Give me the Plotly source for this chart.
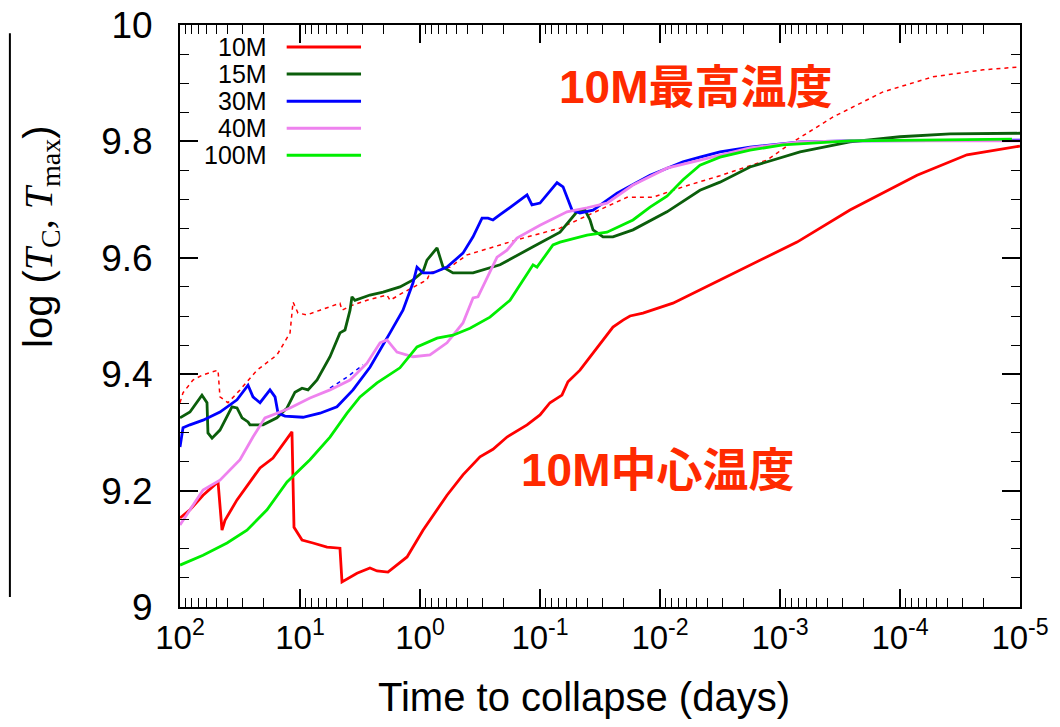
import plotly.graph_objects as go

# ---------------- data (x: log10 of days before collapse, y: log T) ----------------
lt_10m_c = [2.0, 1.917, 1.808, 1.683, 1.65, 1.625, 1.525, 1.333, 1.225, 1.067, 1.05, 0.983, 0.892,
            0.775, 0.667, 0.65, 0.525, 0.417, 0.358, 0.267, 0.108, -0.025, -0.225, -0.358, -0.5,
            -0.608, -0.725, -0.892, -1.0, -1.083, -1.183, -1.233, -1.333, -1.475, -1.608, -1.692,
            -1.75, -1.858, -2.108, -2.5, -2.833, -3.142, -3.583, -4.142, -4.558, -5.0]
T_10m_c = [9.153, 9.167, 9.192, 9.215, 9.132, 9.149, 9.184, 9.239, 9.256, 9.301, 9.137, 9.115, 9.110,
           9.103, 9.101, 9.043, 9.058, 9.067, 9.062, 9.060, 9.086, 9.132, 9.192, 9.227, 9.258,
           9.271, 9.292, 9.313, 9.330, 9.351, 9.364, 9.387, 9.407, 9.445, 9.481, 9.493,
           9.500, 9.505, 9.522, 9.562, 9.596, 9.627, 9.682, 9.742, 9.777, 9.792]

lt_10m_max = [2.0, 1.975, 1.892, 1.808, 1.683, 1.667, 1.6, 1.5, 1.358, 1.192, 1.083, 1.058, 1.017,
              0.942, 0.833, 0.667, 0.65, 0.558, 0.442, 0.275, 0.25, 0.142, -0.058, -0.083, -0.25,
              -0.392, -0.667, -0.808, -1.167, -1.442, -1.725, -1.942, -2.192, -2.5, -2.892, -3.108,
              -3.442, -3.858, -4.275, -4.692, -5.0]
T_10m_max = [9.351, 9.368, 9.390, 9.399, 9.407, 9.361, 9.351, 9.373, 9.407, 9.433, 9.471, 9.524, 9.505,
             9.502, 9.510, 9.522, 9.510, 9.519, 9.527, 9.536, 9.527, 9.540, 9.562, 9.574, 9.584,
             9.605, 9.622, 9.631, 9.651, 9.677, 9.704, 9.704, 9.722, 9.741, 9.768, 9.799,
             9.842, 9.885, 9.911, 9.923, 9.928]

lt_15m = [2.0, 1.917, 1.817, 1.775, 1.767, 1.733, 1.667, 1.567, 1.525, 1.483, 1.433, 1.417, 1.308,
          1.192, 1.108, 1.042, 0.983, 0.933, 0.858, 0.75, 0.667, 0.625, 0.583, 0.567, 0.542, 0.417,
          0.308, 0.167, 0.058, -0.025, -0.058, -0.142, -0.192, -0.275, -0.442, -0.667, -0.942,
          -1.167, -1.308, -1.375, -1.417, -1.442, -1.525, -1.608, -1.775, -2.058, -2.333, -2.5,
          -2.75, -3.167, -3.583, -4.0, -4.417, -5.0]
T_15m = [9.325, 9.335, 9.364, 9.351, 9.299, 9.290, 9.304, 9.344, 9.342, 9.325, 9.318, 9.313, 9.313,
         9.325, 9.342, 9.369, 9.376, 9.373, 9.390, 9.430, 9.471, 9.476, 9.510, 9.533, 9.527, 9.536,
         9.541, 9.550, 9.562, 9.576, 9.596, 9.617, 9.584, 9.574, 9.574, 9.588, 9.619,
         9.644, 9.679, 9.682, 9.665, 9.648, 9.636, 9.636, 9.648, 9.679, 9.716, 9.730,
         9.756, 9.782, 9.799, 9.808, 9.813, 9.814]

lt_30m = [2.0, 1.975, 1.917, 1.808, 1.667, 1.525, 1.433, 1.392, 1.333, 1.25, 1.208, 1.183, 1.125,
          0.975, 0.833, 0.692, 0.558, 0.417, 0.25, 0.142, 0.058, 0.025, -0.025, -0.108, -0.225,
          -0.358, -0.442, -0.517, -0.567, -0.608, -0.667, -0.892, -0.933, -1.0, -1.142, -1.192,
          -1.267, -1.333, -1.442, -1.642, -1.917, -2.192, -2.333, -2.5, -2.75, -3.167, -3.583, -5.0]
T_30m = [9.275, 9.308, 9.313, 9.321, 9.335, 9.356, 9.381, 9.361, 9.351, 9.373, 9.361, 9.333, 9.328,
         9.326, 9.333, 9.344, 9.373, 9.412, 9.471, 9.510, 9.557, 9.584, 9.574, 9.574, 9.584,
         9.608, 9.636, 9.668, 9.668, 9.665, 9.674, 9.708, 9.691, 9.694, 9.729, 9.722,
         9.682, 9.677, 9.682, 9.711, 9.742, 9.765, 9.773, 9.782, 9.790, 9.799, 9.801, 9.802]

lt_30m_max = [0.75, 0.608, 0.475]
T_30m_max = [9.376, 9.395, 9.416]

lt_40m = [2.0, 1.917, 1.808, 1.667, 1.5, 1.392, 1.292, 1.192, 1.083, 0.917, 0.75, 0.583, 0.442,
          0.333, 0.275, 0.192, 0.058, -0.083, -0.225, -0.358, -0.442, -0.483, -0.642, -0.725,
          -0.808, -1.0, -1.225, -1.392, -1.558, -1.775, -2.058, -2.333, -2.75, -3.167, -3.583, -5.0]
T_40m = [9.141, 9.167, 9.201, 9.218, 9.253, 9.292, 9.325, 9.333, 9.342, 9.359, 9.373, 9.390, 9.419,
         9.454, 9.459, 9.438, 9.430, 9.433, 9.454, 9.488, 9.531, 9.533, 9.601, 9.613,
         9.634, 9.656, 9.679, 9.686, 9.694, 9.725, 9.754, 9.768, 9.789, 9.799, 9.801, 9.801]

lt_100m = [2.0, 1.808, 1.608, 1.442, 1.275, 1.108, 0.917, 0.75, 0.608, 0.5, 0.358, 0.167, 0.025,
           -0.142, -0.275, -0.417, -0.583, -0.75, -0.942, -0.975, -1.108, -1.167, -1.392, -1.558,
           -1.775, -1.917, -2.058, -2.192, -2.333, -2.5, -2.75, -3.025, -3.583, -4.933]
T_100m = [9.072, 9.089, 9.110, 9.132, 9.167, 9.215, 9.253, 9.292, 9.333, 9.361, 9.385, 9.411, 9.447,
          9.462, 9.467, 9.479, 9.498, 9.527, 9.588, 9.584, 9.622, 9.627, 9.639, 9.644,
          9.665, 9.687, 9.706, 9.734, 9.759, 9.773, 9.785, 9.794, 9.801, 9.804]

legend_labels = ["10M", "15M", "30M", "40M", "100M"]
x_tick_exps = [2, 1, 0, -1, -2, -3, -4, -5]
x_tick_text = ["10<sup>%d</sup>" % e for e in x_tick_exps]

# ---------------- styles ----------------
C_RED = "#ff0000"
C_DGREEN = "#0b5e0b"
C_BLUE = "#0000ff"
C_VIOLET = "#ee82ee"
C_LIME = "#00ee00"
C_ANNOT = "#ff2a00"
LW = 2.8
SANS = "Liberation Sans, Arial, sans-serif"

fig = go.Figure()

def days(lt):
    return [10 ** v for v in lt]

fig.add_trace(go.Scatter(x=days(lt_10m_max), y=T_10m_max, mode="lines",
                         line=dict(color=C_RED, width=1.5, dash="4px,4px")))
fig.add_trace(go.Scatter(x=days(lt_30m_max), y=T_30m_max, mode="lines",
                         line=dict(color=C_BLUE, width=1.5, dash="4px,4px")))
series = [(lt_10m_c, T_10m_c, C_RED), (lt_15m, T_15m, C_DGREEN), (lt_30m, T_30m, C_BLUE),
          (lt_40m, T_40m, C_VIOLET), (lt_100m, T_100m, C_LIME)]
for (lt, T, c), name in zip(series, legend_labels):
    fig.add_trace(go.Scatter(x=days(lt), y=T, mode="lines", name=name,
                             line=dict(color=c, width=LW)))

# manual legend: text then line
leg_y0 = 0.962
leg_dy = 0.0464
shapes = []
annotations = []
for i, ((lt, T, c), name) in enumerate(zip(series, legend_labels)):
    yy = leg_y0 - i * leg_dy
    annotations.append(dict(x=0.106, y=yy, xref="paper", yref="paper", text=name, showarrow=False,
                            xanchor="right", yanchor="middle",
                            font=dict(size=25, family=SANS, color="black")))
    shapes.append(dict(type="line", xref="paper", yref="paper", x0=0.127, x1=0.2155, y0=yy, y1=yy,
                       line=dict(color=c, width=3)))

annotations.append(dict(x=0.614, y=0.893, xref="paper", yref="paper", text="<b>10M最高温度</b>",
                        showarrow=False, xanchor="center", yanchor="middle",
                        font=dict(size=46, family="Liberation Sans, Noto Sans CJK JP", color=C_ANNOT)))
annotations.append(dict(x=0.569, y=0.235, xref="paper", yref="paper", text="<b>10M中心温度</b>",
                        showarrow=False, xanchor="center", yanchor="middle",
                        font=dict(size=46, family="Liberation Sans, Noto Sans CJK JP", color=C_ANNOT)))

# axis titles placed as in the reference
annotations.append(dict(x=0.481, y=-0.1546, xref="paper", yref="paper",
                        text="Time to collapse (days)", showarrow=False,
                        xanchor="center", yanchor="middle",
                        font=dict(size=40, family=SANS, color="black")))
annotations.append(dict(x=-0.1655, y=0.6375, xref="paper", yref="paper",
                        text='log (<span style="font-family:Liberation Serif"><i>T</i><sub>C</sub>, '
                             '<i>T</i><sub>max</sub></span>)',
                        showarrow=False, textangle=-90, xanchor="center", yanchor="middle",
                        font=dict(size=40, family=SANS, color="black")))

# decorative vertical line at far left
shapes.append(dict(type="line", xref="paper", yref="paper", x0=-0.2025, x1=-0.2025, y0=0.017, y1=0.986,
                   line=dict(color="black", width=2)))

minor_vals = []
for e in range(-5, 2):
    for k in range(2, 10):
        minor_vals.append(k * 10 ** e)

fig.update_layout(
    width=1052, height=719,
    margin=dict(l=172, r=40, t=17, b=120, autoexpand=False),
    plot_bgcolor="white", paper_bgcolor="white",
    showlegend=False,
    font=dict(family=SANS, color="black"),
    shapes=shapes, annotations=annotations,
    xaxis=dict(
        type="log", range=[2, -5], automargin=False,
        tickvals=[10 ** e for e in x_tick_exps], ticktext=x_tick_text,
        ticks="inside", ticklen=18, tickwidth=1.5, tickcolor="black",
        mirror="allticks", showline=True, linewidth=2, linecolor="black",
        showgrid=False, zeroline=False, ticklabeloverflow="allow",
        tickfont=dict(size=33),
        minor=dict(tickvals=minor_vals, ticks="inside", ticklen=9, tickwidth=1.2,
                   tickcolor="black", showgrid=False),
    ),
    yaxis=dict(
        range=[9, 10], dtick=0.2, tick0=9, automargin=False,
        ticks="inside", ticklen=18, tickwidth=1.5, tickcolor="black",
        mirror="allticks", showline=True, linewidth=2, linecolor="black",
        showgrid=False, zeroline=False, ticklabeloverflow="allow",
        tickfont=dict(size=37), ticklabelstandoff=18,
        minor=dict(dtick=0.05, ticks="inside", ticklen=9, tickwidth=1.2,
                   tickcolor="black", showgrid=False),
    ),
)

fig.write_html("out.html")
